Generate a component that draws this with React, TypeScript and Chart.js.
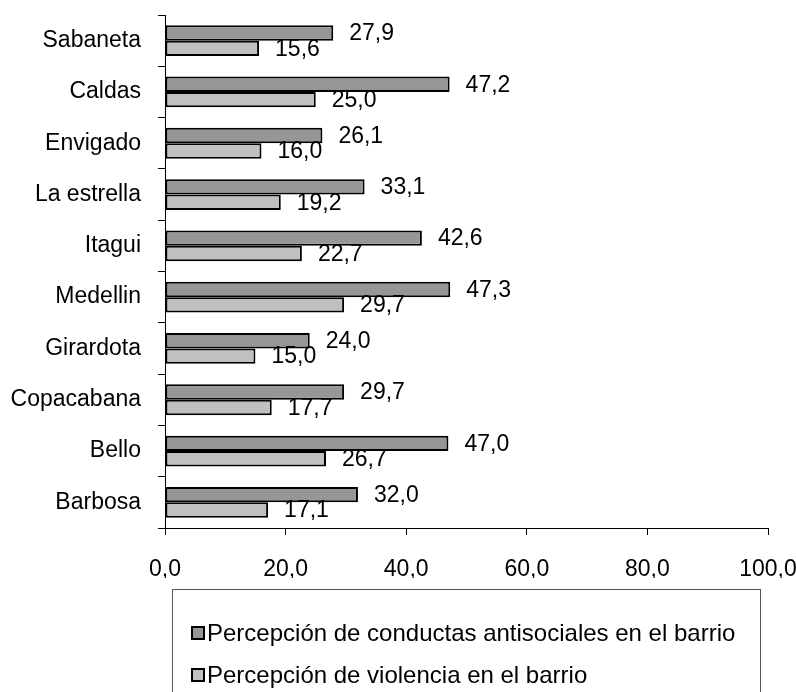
import React, { useEffect, useRef } from "react";
import { Chart, registerables } from "chart.js";

Chart.register(...registerables);

const categories = ["Sabaneta", "Caldas", "Envigado", "La estrella", "Itagui", "Medellin", "Girardota", "Copacabana", "Bello", "Barbosa"];
const antisocial = [27.9, 47.2, 26.1, 33.1, 42.6, 47.3, 24.0, 29.7, 47.0, 32.0];
const violencia = [15.6, 25.0, 16.0, 19.2, 22.7, 29.7, 15.0, 17.7, 26.7, 17.1];
const seriesNames = ["Percepción de conductas antisociales en el barrio", "Percepción de violencia en el barrio"];
const seriesColors = ["#969696", "#c0c0c0"];
const xMin = 0;
const xMax = 100;
const xStep = 20;

const FONT = "'Liberation Sans', Arial, sans-serif";
const fmt = (v: number) => v.toFixed(1).replace(".", ",");

const labelPlugin = {
  id: "valueLabels",
  afterDatasetsDraw(chart: any) {
    const ctx = chart.ctx;
    ctx.save();
    ctx.font = `23px ${FONT}`;
    ctx.fillStyle = "#000";
    ctx.textAlign = "left";
    ctx.textBaseline = "middle";
    chart.data.datasets.forEach((ds: any, di: number) => {
      const meta = chart.getDatasetMeta(di);
      meta.data.forEach((bar: any, i: number) => {
        ctx.fillText(fmt(ds.data[i]), bar.x + 16, bar.y + 1);
      });
    });
    ctx.restore();
  },
};

const legendPlugin = {
  id: "boxLegend",
  afterDraw(chart: any) {
    const ctx = chart.ctx;
    const left = 172;
    const top = 589;
    const right = 760;
    ctx.save();
    ctx.strokeStyle = "#555";
    ctx.lineWidth = 1;
    ctx.strokeRect(left + 0.5, top + 0.5, right - left, 200);
    ctx.font = `24px ${FONT}`;
    ctx.textAlign = "left";
    ctx.textBaseline = "middle";
    chart.data.datasets.forEach((ds: any, i: number) => {
      const cy = top + 44 + i * 42;
      ctx.fillStyle = ds.backgroundColor;
      ctx.fillRect(192, cy - 6, 12, 12);
      ctx.strokeStyle = "#000";
      ctx.lineWidth = 2;
      ctx.strokeRect(192, cy - 6, 12, 12);
      ctx.fillStyle = "#000";
      ctx.fillText(ds.label, 207, cy + 1);
    });
    ctx.restore();
  },
};

export default function App() {
  const ref = useRef<HTMLCanvasElement | null>(null);
  useEffect(() => {
    if (!ref.current) return;
    const chart = new Chart(ref.current, {
      type: "bar",
      data: {
        labels: categories,
        datasets: [
          { label: seriesNames[0], data: antisocial, backgroundColor: seriesColors[0], borderColor: "#000", borderWidth: 2, borderSkipped: false, categoryPercentage: 0.6, barPercentage: 1.0 },
          { label: seriesNames[1], data: violencia, backgroundColor: seriesColors[1], borderColor: "#000", borderWidth: 2, borderSkipped: false, categoryPercentage: 0.6, barPercentage: 1.0 },
        ],
      },
      options: {
        indexAxis: "y",
        responsive: false,
        animation: false,
        layout: { padding: { top: 15, right: 28, left: 0, bottom: 114 } },
        plugins: { legend: { display: false }, tooltip: { enabled: false } },
        scales: {
          x: {
            min: xMin,
            max: xMax,
            ticks: { stepSize: xStep, color: "#000", font: { family: FONT, size: 23 }, padding: 21, callback: (v: any) => fmt(Number(v)) },
            grid: { drawOnChartArea: false, tickLength: 7, color: "#000" },
            border: { display: true, color: "#000", width: 1 },
            afterFit: (s: any) => { s.height = 50; s.paddingLeft = 0; s.paddingRight = 0; },
          },
          y: {
            ticks: { color: "#000", font: { family: FONT, size: 23 }, padding: 17 },
            grid: { drawOnChartArea: false, tickLength: 7, color: "#000", offset: true },
            border: { display: true, color: "#000", width: 1 },
            afterFit: (s: any) => { s.width = 165; s.paddingTop = 0; s.paddingBottom = 0; },
          },
        },
      } as any,
      plugins: [labelPlugin, legendPlugin],
    });
    return () => chart.destroy();
  }, []);
  return (
    <div style={{ position: "absolute", left: 0, top: 0, width: 796, height: 692, background: "#fff" }}>
      <canvas ref={ref} width={796} height={692} />
    </div>
  );
}
